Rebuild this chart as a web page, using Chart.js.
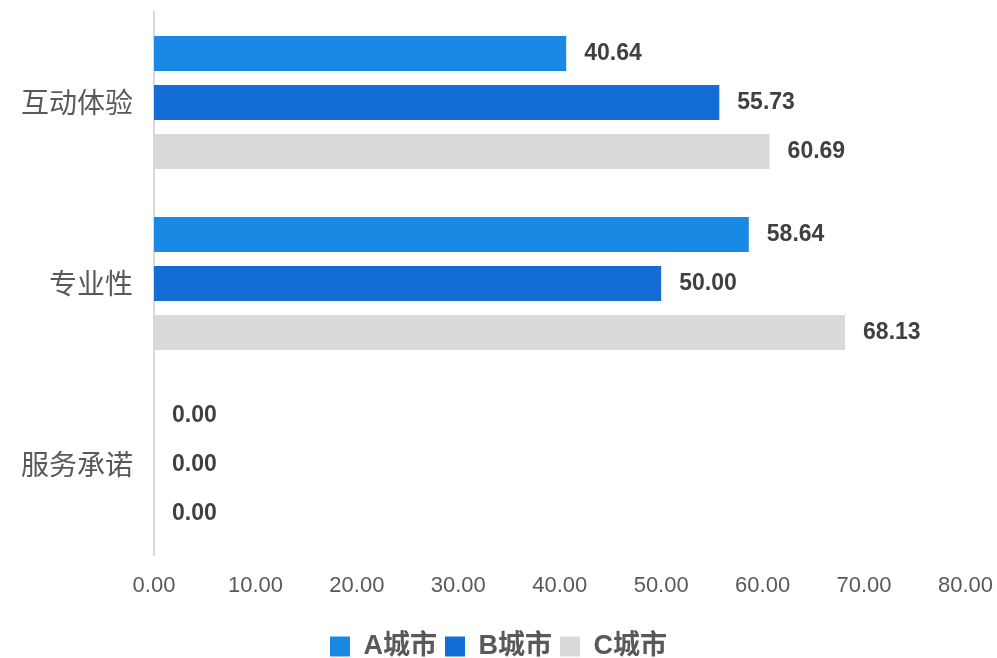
<!DOCTYPE html>
<html>
<head>
<meta charset="utf-8">
<script src="https://cdn.jsdelivr.net/npm/chart.js@4/dist/chart.umd.min.js"></script>
<style>
  html, body { margin: 0; padding: 0; background: #fff; overflow: hidden; }
  #wrap { width: 997px; height: 658px; position: relative; }
</style>
</head>
<body>
<div id="wrap"><canvas id="chart"></canvas></div>
<script>
const categories = ['互动体验', '专业性', '服务承诺'];
const cityA = [40.64, 58.64, 0.00];
const cityB = [55.73, 50.00, 0.00];
const cityC = [60.69, 68.13, 0.00];
const seriesNames = ['A城市', 'B城市', 'C城市'];
const seriesColors = ['#1A89E4', '#136DD5', '#D9D9D9'];

/* value labels at the end of each bar */
const barLabels = {
  id: 'barLabels',
  afterDatasetsDraw(chart) {
    const ctx = chart.ctx;
    ctx.save();
    ctx.font = 'bold 23px "Liberation Sans", Arial, sans-serif';
    ctx.fillStyle = '#404040';
    ctx.textAlign = 'left';
    ctx.textBaseline = 'middle';
    chart.data.datasets.forEach((ds, i) => {
      chart.getDatasetMeta(i).data.forEach((bar, j) => {
        ctx.fillText(ds.data[j].toFixed(2), bar.x + 18, bar.y);
      });
    });
    ctx.restore();
  }
};

const rows = [cityA, cityB, cityC];

new Chart(document.getElementById('chart'), {
  type: 'bar',
  data: {
    labels: categories,
    datasets: rows.map((d, i) => ({
      label: seriesNames[i],
      data: d,
      backgroundColor: seriesColors[i],
      categoryPercentage: 0.812,
      barPercentage: 0.714
    }))
  },
  options: {
    indexAxis: 'y',
    responsive: true,
    maintainAspectRatio: false,
    animation: false,
    layout: { padding: { top: 12, left: 0, right: 0, bottom: -12 } },
    plugins: {
      tooltip: { enabled: false },
      legend: {
        position: 'bottom',
        labels: {
          boxWidth: 20,
          boxHeight: 20,
          padding: 8,
          color: '#595959',
          font: { family: '"Liberation Sans", "Noto Sans CJK SC", sans-serif', size: 27, weight: 'bold' }
        }
      }
    },
    scales: {
      x: {
        min: 0, max: 80,
        grid: { display: false, drawTicks: true, tickLength: 14 },
        border: { display: false },
        ticks: {
          stepSize: 10,
          padding: 4,
          color: '#595959',
          font: { family: '"Liberation Sans", Arial, sans-serif', size: 22 },
          callback: v => Number(v).toFixed(2)
        },
        afterFit: s => { s.height = 70; }
      },
      y: {
        grid: { display: false, drawTicks: true, tickLength: 21 },
        border: { display: true, color: '#D9D9D9', width: 2 },
        ticks: {
          padding: 0,
          color: '#595959',
          font: { family: '"Noto Sans CJK SC", sans-serif', size: 28, lineHeight: 0.8 }
        },
        afterFit: s => { s.width = 154; }
      }
    }
  },
  plugins: [barLabels]
});
</script>
</body>
</html>
